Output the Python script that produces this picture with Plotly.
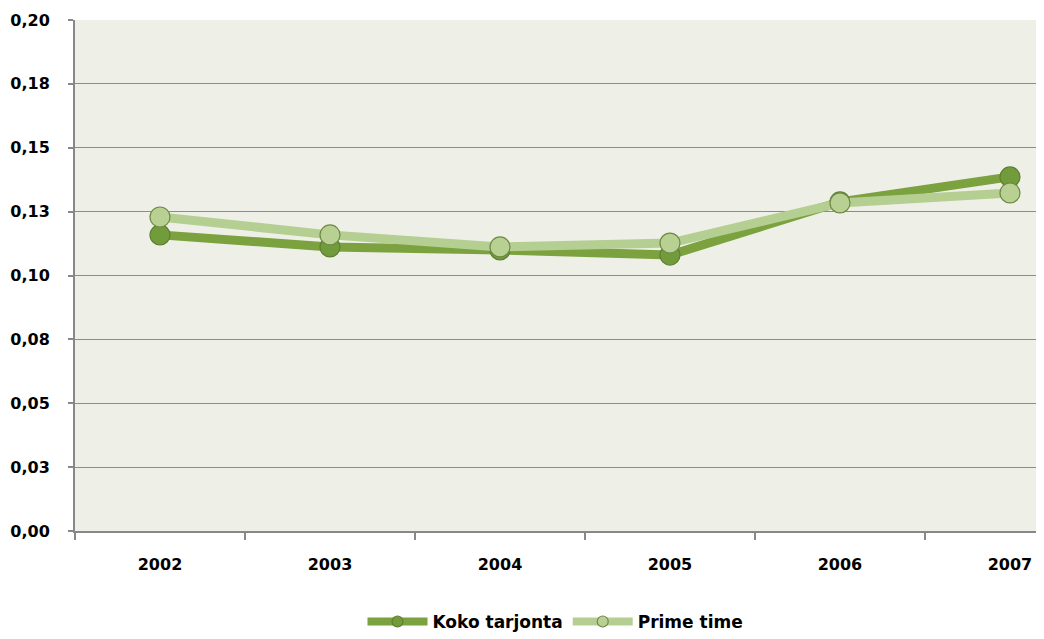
import plotly.graph_objects as go

years = ["2002", "2003", "2004", "2005", "2006", "2007"]
koko = [0.1159, 0.1112, 0.1100, 0.1080, 0.1288, 0.1386]
prime = [0.1229, 0.1159, 0.1112, 0.1127, 0.1284, 0.1323]
ytick_vals = [0, 0.025, 0.05, 0.075, 0.1, 0.125, 0.15, 0.175, 0.2]
ytick_text = ["0,00", "0,03", "0,05", "0,08", "0,10", "0,13", "0,15", "0,18", "0,20"]

DARK = "#7BA23F"
DARK_M = "#729B3B"
LIGHT = "#B5CF92"
LIGHT_M = "#B8D193"
FONT = "DejaVu Sans"

fig = go.Figure()
fig.add_trace(go.Scatter(
    x=years, y=koko, name="Koko tarjonta", mode="lines+markers", showlegend=False,
    line=dict(color=DARK, width=9),
    marker=dict(size=20, color=DARK_M, line=dict(color="#5E7F30", width=1.2)),
    cliponaxis=False,
))
fig.add_trace(go.Scatter(
    x=years, y=prime, name="Prime time", mode="lines+markers", showlegend=False,
    line=dict(color=LIGHT, width=9),
    marker=dict(size=20, color=LIGHT_M, line=dict(color="#6E8A45", width=1.2)),
    cliponaxis=False,
))
# legend entries (smaller markers, like the original legend)
fig.add_trace(go.Scatter(
    x=[None], y=[None], name="Koko tarjonta", mode="lines+markers",
    line=dict(color=DARK, width=8),
    marker=dict(size=11, color=DARK_M, line=dict(color="#5E7F30", width=1.2)),
))
fig.add_trace(go.Scatter(
    x=[None], y=[None], name="Prime time", mode="lines+markers",
    line=dict(color=LIGHT, width=8),
    marker=dict(size=11, color=LIGHT_M, line=dict(color="#6E8A45", width=1.2)),
))

fig.update_layout(
    width=1036, height=631,
    margin=dict(l=67, r=8, t=12, b=108, autoexpand=False),
    paper_bgcolor="white", plot_bgcolor="#EEF0E7",
    font=dict(family=FONT, size=16, color="black"),
    showlegend=True,
    legend=dict(orientation="h", x=0.5, xanchor="center", y=-0.178, yanchor="middle",
                font=dict(size=17, family=FONT, weight="bold"),
                itemwidth=60, tracegroupgap=0, bgcolor="rgba(0,0,0,0)"),
)
fig.update_xaxes(
    type="category", range=[-0.5, 5.153], automargin=False,
    tickson="boundaries", ticks="outside", ticklen=7, tickwidth=2, tickcolor="#888888",
    showline=True, linecolor="#888888", linewidth=2, showgrid=False,
    tickfont=dict(size=16, family=FONT, weight="bold"),
    ticklabelstandoff=18,
)
fig.update_yaxes(
    range=[0, 0.2], tickvals=ytick_vals, ticktext=ytick_text, automargin=False,
    ticks="outside", ticklen=5, tickwidth=2, tickcolor="#888888",
    showline=True, linecolor="#888888", linewidth=2,
    showgrid=True, gridcolor="#8C8C8C", gridwidth=1.3, zeroline=False,
    tickfont=dict(size=16, family=FONT, weight="bold"),
    ticklabelstandoff=15,
)
fig.write_html("out.html")
